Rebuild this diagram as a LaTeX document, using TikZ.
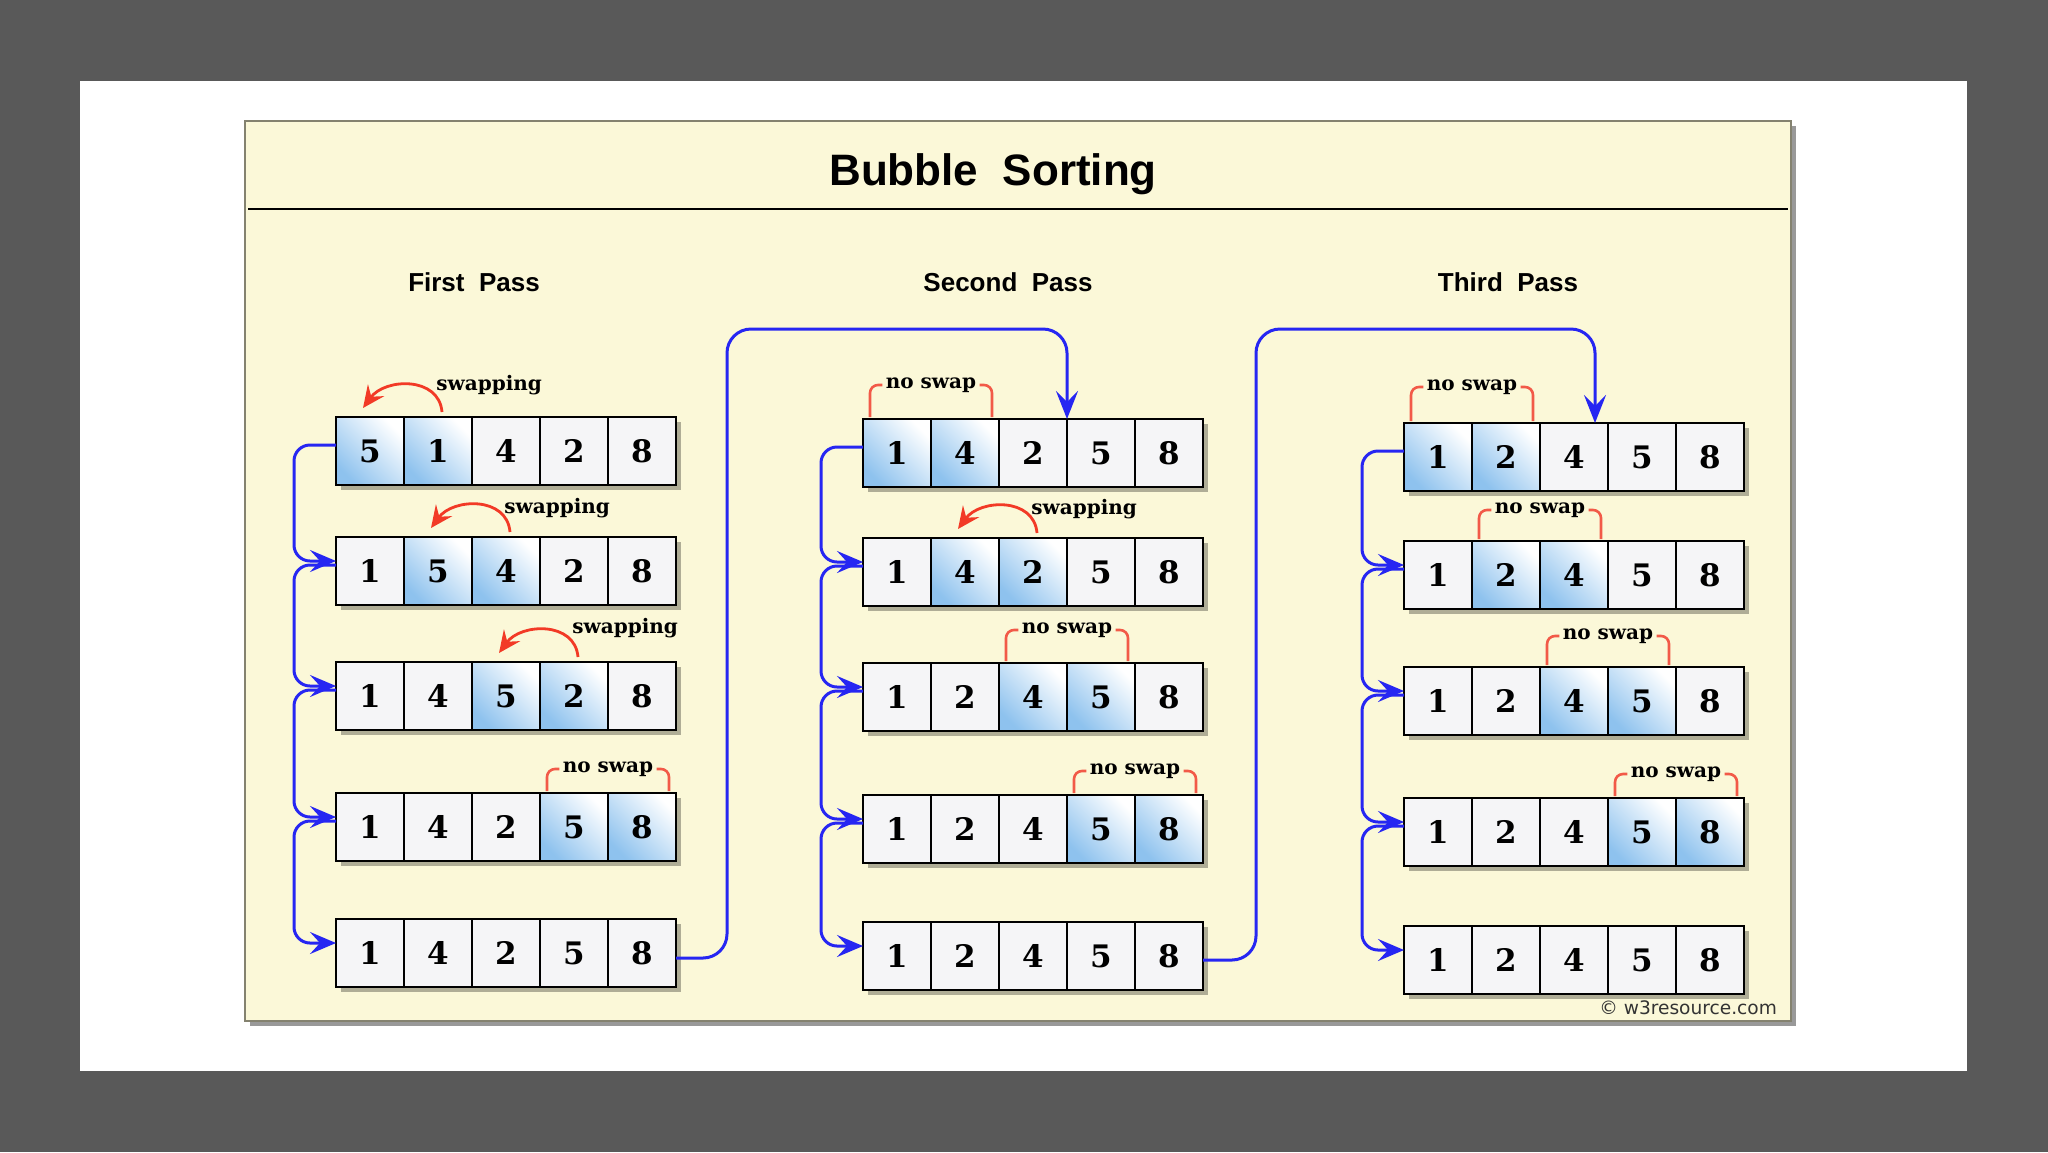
\documentclass[tikz,border=0pt]{standalone}
\usepackage{fontspec}
\setmainfont{DejaVu Serif}
\setsansfont{Liberation Sans}
\newfontfamily\markfont{DejaVu Sans}
\usetikzlibrary{arrows.meta,positioning,shadows}
\definecolor{pagegray}{HTML}{595959}
\definecolor{panelbg}{HTML}{FBF8D8}
\definecolor{panelrule}{HTML}{84826F}
\definecolor{cellbg}{HTML}{F5F5F7}
\definecolor{cellblue}{HTML}{8EC2EE}
\definecolor{flowblue}{HTML}{2626F2}
\definecolor{swapred}{HTML}{F23A26}
\definecolor{bracketred}{HTML}{F25A48}

% one row of five cells: name, x of first cell, y, first marked cell (0: none), digits
\newcommand{\cellrow}[5]{%
  \foreach \d [count=\i] in {#5}{
    \pgfmathtruncatemacro{\mk}{and(#4>0,and(\i>=#4,\i<=#4+1))}
    \node[cell, hl=\mk] (#1-\i) at ({#2+(\i-1)*68},#3) {\d};
  }}
% row, left cell, right cell, raise of the label
\newcommand{\swapmark}[4]{%
  \draw[swaparc] ([shift={(2pt,2.5pt)}]#1-#3.north) .. controls +(-3,-36) and +(22,-30) .. ([shift={(-3.5pt,4.5pt)}]#1-#2.north);
  \node[lbl, anchor=west] (#1-lbl) at ([shift={(-2.5pt,#4)}]#1-#3.north) {swapping};}
\newcommand{\noswap}[4]{%
  \node[lbl] (#1-lbl) at ([yshift=#4]#1-#2.north east) {no swap};
  \draw[bracket] ([shift={(3.5pt,1pt)}]#1-#2.north west) |- (#1-lbl.west);
  \draw[bracket] ([shift={(-3.5pt,1pt)}]#1-#3.north east) |- (#1-lbl.east);}

\tikzset{
  cell/.style={draw=black, line width=1.2pt, fill=cellbg, minimum size=34pt,
               inner sep=0pt, outer sep=0pt, font=\fontsize{15.5}{15.5}\selectfont\bfseries,
               drop shadow={shadow xshift=2.5pt, shadow yshift=-2.5pt, fill=black, opacity=.3}},
  hl/.code={\ifnum#1=1 \tikzset{top color=white, bottom color=cellblue, shading angle=-45}\fi},
  flow/.style={draw=flowblue, line width=1.5pt, rounded corners=8pt,
               -{Stealth[length=13pt,width=11pt,inset=5pt]}},
  swaparc/.style={draw=swapred, line width=1.4pt, -{Stealth[length=11pt,width=10pt,inset=4pt]}},
  bracket/.style={draw=bracketred, line width=1.3pt, rounded corners=4pt},
  lbl/.style={font=\fontsize{10}{10}\selectfont\bfseries, inner sep=1.5pt},
  passlbl/.style={font=\sffamily\bfseries\fontsize{13}{14}\selectfont}
}

\begin{document}
\begin{tikzpicture}[x=0.5pt, y=-0.5pt]
  \fill[pagegray] (0,0) rectangle (2048,1152);
  \fill[white] (80,81) rectangle (1967,1071);
  \fill[black!40] (250,126) rectangle (1796,1026);
  \filldraw[fill=panelbg, draw=panelrule, line width=1pt] (245,121) rectangle (1791,1021);

  \node[font=\sffamily\bfseries\fontsize{22}{26}\selectfont] (title) at (993,174) {Bubble\ \ Sorting};
  \draw[line width=1pt] (248,209) -- (1788,209);

  \node[passlbl] (first) at (474,282) {First\ \ Pass};
  \node[passlbl] (second) at (1008,282) {Second\ \ Pass};
  \node[passlbl] (third) at (1508,282) {Third\ \ Pass};

  % first pass
  \cellrow{a1}{370}{451}{1}{5,1,4,2,8}
  \cellrow{a2}{370}{571}{2}{1,5,4,2,8}
  \cellrow{a3}{370}{696}{3}{1,4,5,2,8}
  \cellrow{a4}{370}{827}{4}{1,4,2,5,8}
  \cellrow{a5}{370}{953}{0}{1,4,2,5,8}
  % second pass
  \cellrow{b1}{897}{453}{1}{1,4,2,5,8}
  \cellrow{b2}{897}{572}{2}{1,4,2,5,8}
  \cellrow{b3}{897}{697}{3}{1,2,4,5,8}
  \cellrow{b4}{897}{829}{4}{1,2,4,5,8}
  \cellrow{b5}{897}{956}{0}{1,2,4,5,8}
  % third pass
  \cellrow{c1}{1438}{457}{1}{1,2,4,5,8}
  \cellrow{c2}{1438}{575}{2}{1,2,4,5,8}
  \cellrow{c3}{1438}{701}{3}{1,2,4,5,8}
  \cellrow{c4}{1438}{832}{4}{1,2,4,5,8}
  \cellrow{c5}{1438}{960}{0}{1,2,4,5,8}

  \swapmark{a1}{1}{2}{16pt}
  \swapmark{a2}{2}{3}{14.5pt}
  \swapmark{a3}{3}{4}{17pt}
  \noswap{a4}{4}{5}{12pt}
  \noswap{b1}{1}{2}{17pt}
  \swapmark{b2}{2}{3}{14.5pt}
  \noswap{b3}{3}{4}{16.5pt}
  \noswap{b4}{4}{5}{12pt}
  \noswap{c1}{1}{2}{18pt}
  \noswap{c2}{2}{3}{15.5pt}
  \noswap{c3}{3}{4}{15.5pt}
  \noswap{c4}{4}{5}{12pt}

  % row to row
  \foreach \p in {a,b,c}
    \foreach \r [count=\s from 2] in {1,...,4}
      \draw[flow] ([yshift=3pt]\p\r-1.west) -- ++(-42,0) |- ([yshift=5pt]\p\s-1.west);

  % pass to pass
  \coordinate (ab) at (727,329);
  \coordinate (bc) at (1256,329);
  \draw[flow, rounded corners=12pt, -{Stealth[length=14pt,width=11pt,inset=5.5pt]}]
    ([yshift=-2.5pt]a5-5.east) -| (ab) -| (b1-4.north west);
  \draw[flow, rounded corners=12pt, -{Stealth[length=14pt,width=11pt,inset=5.5pt]}]
    ([yshift=-2pt]b5-5.east) -| (bc) -| ([xshift=-6.5pt]c1-4.north west);

  \node[anchor=east, font=\markfont\fontsize{9.3}{10}\selectfont, text=black!80] (copy)
    at (1784,1008) {© w3resource.com};
\end{tikzpicture}
\end{document}
